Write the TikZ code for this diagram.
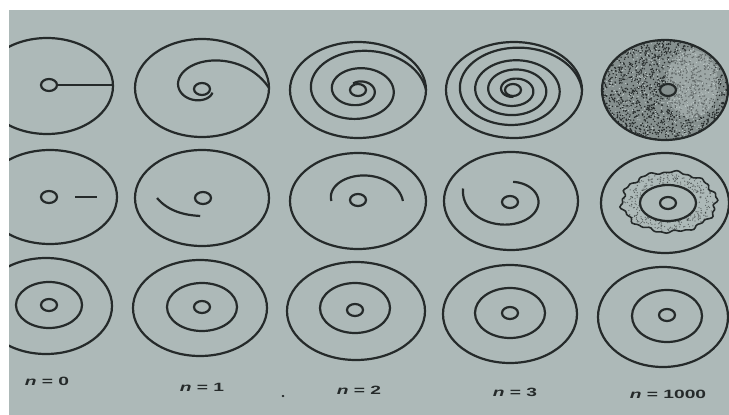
\documentclass[tikz,border=0pt]{standalone}
\usepackage{fontspec}
\setmainfont{Liberation Sans}
\definecolor{bgc}{HTML}{ADB9B8}
\definecolor{inkc}{HTML}{252A2A}
\definecolor{stipc}{HTML}{858F8E}
\definecolor{lightc}{HTML}{C2CCCB}
\begin{document}
\begin{tikzpicture}[x=1pt,y=-1pt,
  ink/.style={draw=inkc, line width=2.2pt},
  thin ink/.style={draw=inkc, line width=1.6pt},
  lab/.style={text=inkc, font=\fontsize{12}{14}\selectfont\bfseries, inner sep=0pt}]
\useasboundingbox (0,0) rectangle (729,415);
\fill[white] (0,0) rectangle (729,415);
\begin{scope}
\clip (9,10) rectangle (729,415);
\fill[bgc] (9,10) rectangle (729,415);
\pgfmathsetseed{7}

% ---------------- Row 1 ----------------
% n = 0 : radial line
\draw[ink] (47,86) ellipse [x radius=66, y radius=48];
\draw[ink] (49,85) ellipse [x radius=8, y radius=6];
\coordinate (r1a) at (57,85);
\coordinate (r1b) at (112,85);
\draw[ink] (r1a) -- (r1b);
% n = 1
\draw[ink] (202,88) ellipse [x radius=67, y radius=49];
\draw[ink] (202,89) ellipse [x radius=8, y radius=6];
\draw[ink] plot[domain=0:0.999, samples=160, smooth, variable=\s]
  ({202+67*(0.18+0.35*(1-\s)+0.47*(1-\s)^5)*cos(330*\s)},
   {88-49*(0.18+0.35*(1-\s)+0.47*(1-\s)^5)*sin(330*\s)});
% n = 2
\draw[ink] (358,90) ellipse [x radius=68, y radius=48];
\draw[ink] (358,90) ellipse [x radius=8, y radius=6];
\draw[ink] plot[domain=0:0.999, samples=300, smooth, variable=\s]
  ({358+68*(0.15+0.65*(1-\s)+0.2*(1-\s)^8)*cos(840*\s)},
   {90-48*(0.15+0.65*(1-\s)+0.2*(1-\s)^8)*sin(840*\s)});
% n = 3
\draw[ink] (514,90) ellipse [x radius=68, y radius=48];
\draw[ink] (513,90) ellipse [x radius=8, y radius=6];
\draw[ink] plot[domain=0:0.999, samples=420, smooth, variable=\s]
  ({514+68*(0.14+0.715*(1-\s)+0.145*(1-\s)^10)*cos(1350*\s)},
   {90-48*(0.14+0.715*(1-\s)+0.145*(1-\s)^10)*sin(1350*\s)});
% n = 1000 : stippled
\begin{scope}
  \clip (665,90) ellipse [x radius=63, y radius=50];
  \fill[stipc] (665,90) ellipse [x radius=63, y radius=50];
  \foreach \i in {1,...,1700}{
    \pgfmathsetmacro\px{602+126*rnd}
    \pgfmathsetmacro\py{40+100*rnd}
    \fill[inkc] (\px,\py) circle (0.8pt);
  }
  \foreach \i in {1,...,600}{
    \pgfmathsetmacro\px{602+126*rnd}
    \pgfmathsetmacro\py{40+100*rnd}
    \fill[lightc] (\px,\py) circle (0.6pt);
  }
  \fill[lightc, opacity=0.4] (692,84) ellipse [x radius=26, y radius=34];
\end{scope}
\draw[ink] (665,90) ellipse [x radius=63, y radius=50];
\fill[stipc] (668,90) ellipse [x radius=8, y radius=6];
\draw[ink] (668,90) ellipse [x radius=8, y radius=6];

% ---------------- Row 2 ----------------
% n = 0 : short segment
\draw[ink] (50,197) ellipse [x radius=67, y radius=47];
\draw[ink] (49,197) ellipse [x radius=8, y radius=6];
\coordinate (s0a) at (75,197);
\coordinate (s0b) at (97,197);
\draw[ink] (s0a) -- (s0b);
% n = 1
\draw[ink] (202,198) ellipse [x radius=67, y radius=48];
\draw[ink] (203,198) ellipse [x radius=8, y radius=6];
\draw[ink] plot[domain=0:1, samples=60, smooth, variable=\s]
  ({202+67*(0.375+0.295*(1.001-\s)^2)*cos(180+86*\s)},
   {198-48*(0.375+0.295*(1.001-\s)^2)*sin(180+86*\s)});
% n = 2
\draw[ink] (358,201) ellipse [x radius=68, y radius=48];
\draw[ink] (358,200) ellipse [x radius=8, y radius=6];
\draw[ink] plot[domain=0:1, samples=80, smooth, variable=\s]
  ({358+68*(0.66-0.27*\s)*cos(180*\s)},
   {201-48*(0.66-0.27*\s)*sin(180*\s)});
% n = 3
\draw[ink] (511,201) ellipse [x radius=67, y radius=49];
\draw[ink] (510,202) ellipse [x radius=8, y radius=6];
\draw[ink] plot[domain=0:1, samples=120, smooth, variable=\s]
  ({511+67*(0.40+0.36*(1.001-\s)^3)*cos(160+286*\s)},
   {201-48*(0.40+0.36*(1.001-\s)^3)*sin(160+286*\s)});
% n = 1000
\draw[ink] (665,203) ellipse [x radius=64, y radius=50];
\foreach \i in {1,...,300}{
  \pgfmathsetmacro\tt{360*rnd}
  \pgfmathsetmacro\rr{0.64+0.32*rnd}
  \fill[inkc, opacity=0.6] ({669+47*\rr*cos(\tt)},{202-30*\rr*sin(\tt)}) circle (0.65pt);
}
\draw[thin ink] plot[domain=0:357, samples=120, smooth cycle, variable=\t]
  ({669+47*(1+0.035*sin(10*\t)+0.025*sin(23*\t+40))*cos(\t)},
   {202-30*(1+0.035*sin(10*\t)+0.025*sin(23*\t+40))*sin(\t)});
\draw[ink] (668,203) ellipse [x radius=28, y radius=18];
\draw[ink] (668,203) ellipse [x radius=8, y radius=6];

% ---------------- Row 3 ----------------
\draw[ink] (46,306) ellipse [x radius=66, y radius=48];
\draw[ink] (49,305) ellipse [x radius=33, y radius=23];
\draw[ink] (49,305) ellipse [x radius=8, y radius=6];
\draw[ink] (200,308) ellipse [x radius=67, y radius=48];
\draw[ink] (202,307) ellipse [x radius=35, y radius=24];
\draw[ink] (202,307) ellipse [x radius=8, y radius=6];
\draw[ink] (356,311) ellipse [x radius=69, y radius=49];
\draw[ink] (355,308) ellipse [x radius=35, y radius=25];
\draw[ink] (355,310) ellipse [x radius=8, y radius=6];
\draw[ink] (510,314) ellipse [x radius=67, y radius=49];
\draw[ink] (510,313) ellipse [x radius=35, y radius=25];
\draw[ink] (510,313) ellipse [x radius=8, y radius=6];
\draw[ink] (663,317) ellipse [x radius=65, y radius=50];
\draw[ink] (667,316) ellipse [x radius=35, y radius=26];
\draw[ink] (667,315) ellipse [x radius=8, y radius=6];

% ---------------- Labels ----------------
\node[lab] (l0) at (47,381) {\scalebox{1.6}[1]{\textit{n} = 0}};
\node[lab] (l1) at (202,387) {\scalebox{1.6}[1]{\textit{n} = 1}};
\node[lab] (l2) at (359,390) {\scalebox{1.6}[1]{\textit{n} = 2}};
\node[lab] (l3) at (515,392) {\scalebox{1.6}[1]{\textit{n} = 3}};
\node[lab] (l4) at (668,394) {\scalebox{1.6}[1]{\textit{n} = 1000}};
\fill[inkc] (283,396) ellipse [x radius=1.5, y radius=1.2];
\end{scope}
\end{tikzpicture}
\end{document}
